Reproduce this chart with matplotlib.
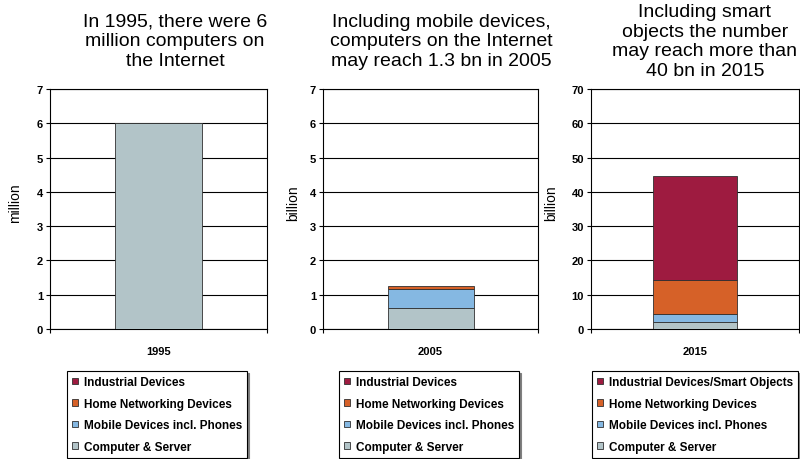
import matplotlib
matplotlib.use("Agg")
import matplotlib.pyplot as plt
from matplotlib.patches import Patch

plt.rcParams['font.family'] = ['Liberation Sans', 'DejaVu Sans']

# categories, bottom to top of each stack
categories = ['Computer & Server', 'Mobile Devices incl. Phones',
              'Home Networking Devices', 'Industrial Devices']
colors = ['#b2c4c8', '#85b8e2', '#d66128', '#9e1b40']

years = ['1995', '2005', '2015']
values_1995 = [6.0, 0.0, 0.0, 0.0]          # million
values_2005 = [0.6, 0.58, 0.06, 0.0]        # billion
values_2015 = [2.0, 2.4, 10.0, 30.2]        # billion
all_values = [values_1995, values_2005, values_2015]

units = ['million', 'billion', 'billion']
ymax = [7, 7, 70]
ystep = [1, 1, 10]

titles = ['In 1995, there were 6\nmillion computers on\nthe Internet',
          'Including mobile devices,\ncomputers on the Internet\nmay reach 1.3 bn in 2005',
          'Including smart\nobjects the number\nmay reach more than\n40 bn in 2015']
legend_top_label = ['Industrial Devices', 'Industrial Devices',
                    'Industrial Devices/Smart Objects']

W, H = 800, 460
fig = plt.figure(figsize=(8, 4.6), dpi=100)

# axes boxes in pixels: left, right
ax_px = [(50, 267), (323, 538), (591, 799)]
title_x = [175, 441, 705]
ylabel_x = [22, 300, 558]
legend_left = [67, 339, 592]
top_px, bottom_px = 90, 330

for i in range(3):
    l, r = ax_px[i]
    ax = fig.add_axes([l / W, 1 - bottom_px / H, (r - l) / W, (bottom_px - top_px) / H])
    bottom = 0
    for v, c in zip(all_values[i], colors):
        if v > 0:
            ax.bar([0], [v], width=0.4, bottom=bottom, color=c,
                   edgecolor='#303030', linewidth=0.6, zorder=3)
        bottom += v
    ax.set_xlim(-0.5, 0.5)
    ax.set_ylim(0, ymax[i])
    ax.set_yticks(range(0, ymax[i] + 1, ystep[i]))
    ax.yaxis.grid(True, color='black', linewidth=0.8, zorder=0)
    ax.set_axisbelow(True)
    for s in ax.spines.values():
        s.set_color('black')
        s.set_linewidth(0.8)
    ax.tick_params(axis='y', length=3, width=0.8, pad=2, labelsize=8)
    for t in ax.get_yticklabels():
        t.set_fontweight('bold')
    ax.set_xticks([0])
    ax.set_xticklabels([years[i]], fontweight='bold', fontsize=8)
    ax.set_xticks([-0.5, 0.5], minor=True)
    ax.tick_params(axis='x', which='major', length=0, pad=12)
    ax.tick_params(axis='x', which='minor', length=3, width=0.8)
    ax.set_ylabel(units[i], fontsize=10)
    ax.yaxis.set_label_coords((ylabel_x[i] - l) / (r - l), 0.53)

    fig.text(title_x[i] / W, 1 - 42 / H, titles[i], ha='center', va='center',
             fontsize=14, linespacing=1.2)

    labels = [legend_top_label[i]] + categories[2::-1]
    handles = [Patch(facecolor=c, edgecolor='#303030', linewidth=0.6)
               for c in colors[::-1]]
    leg = ax.legend(handles, labels, loc='upper left',
                    bbox_to_anchor=(legend_left[i] / W, 1 - 372 / H),
                    bbox_transform=fig.transFigure, borderaxespad=0,
                    fancybox=False, frameon=True, edgecolor='black',
                    prop={'weight': 'bold', 'size': 8.5},
                    handlelength=0.45, handleheight=0.45, handletextpad=0.5,
                    labelspacing=0.8, borderpad=0.45,
                    shadow={'color': '#808080', 'alpha': 1.0, 'ox': 1.2, 'oy': -1.2})
    leg.get_frame().set_linewidth(0.8)

fig.savefig('out.png', dpi=100)
